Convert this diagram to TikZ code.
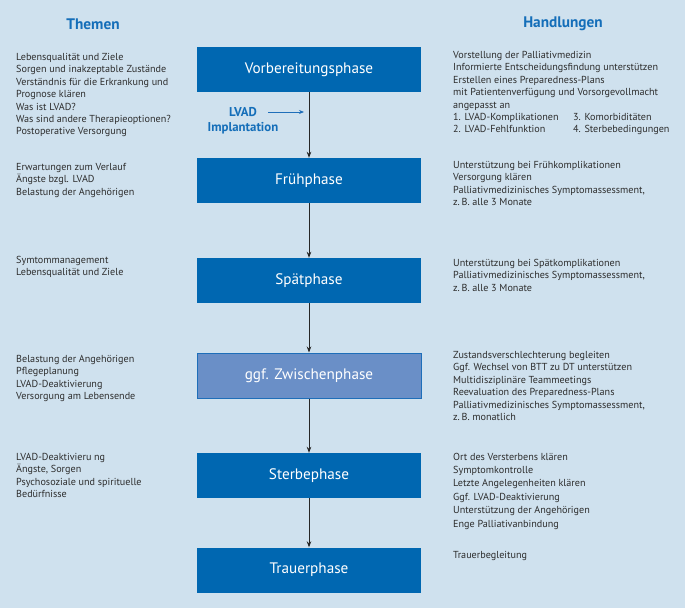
\documentclass[tikz,border=0pt]{standalone}
\usepackage{fontspec}
\setmainfont{PT Sans}
\usetikzlibrary{arrows.meta}
\definecolor{bg}{RGB}{207,225,238}
\definecolor{boxblue}{RGB}{0,103,177}
\definecolor{midblue}{RGB}{106,143,199}
\definecolor{edgeblue}{RGB}{30,110,185}
\definecolor{headblue}{RGB}{20,110,185}
\definecolor{txt}{RGB}{45,45,45}
\tikzset{
  phasebox/.style={fill=boxblue, draw=none, minimum width=224pt, minimum height=45pt, inner sep=0pt, text=white, font=\fontsize{15.2}{17}\selectfont},
  midbox/.style={phasebox, fill=midblue, draw=edgeblue, line width=1pt},
  txtblock/.style={anchor=north west, inner sep=0pt, align=left, text=txt, font=\fontsize{10.15}{12.4}\selectfont},
  heading/.style={text=headblue, font=\bfseries\fontsize{15.3}{17}\selectfont},
  flow/.style={draw=black!85, line width=0.8pt, -{Stealth[length=6pt,width=4.5pt]}},
}
\begin{document}
\begin{tikzpicture}[x=1pt,y=-1pt]
\path[fill=bg,use as bounding box] (0,0) rectangle (685,608);

\node[heading] (hT) at (93,24) {Themen};
\node[heading] (hH) at (563,24) {Handlungen};

\node[phasebox] (p1) at (309,69.5) {Vorbereitungsphase};
\node[phasebox] (p2) at (309,180.5) {Frühphase};
\node[phasebox] (p3) at (309,280.5) {Spätphase};
\node[midbox]   (p4) at (309,375.5) {ggf. Zwischenphase};
\node[phasebox] (p5) at (309,475.5) {Sterbephase};
\node[phasebox] (p6) at (309,570) {Trauerphase};

\draw[flow] (p1) -- (p2);
\draw[flow] (p2) -- (p3);
\draw[flow] (p3) -- (p4);
\draw[flow] (p4) -- (p5);
\draw[flow] (p5) -- (p6);

\node[text=headblue, font=\bfseries\fontsize{12.8}{15.5}\selectfont, align=center, inner sep=0pt] (lvad) at (243,120.5) {LVAD\\Implantation};
\coordinate (la) at (268,112);
\coordinate (lb) at (304,112);
\draw[draw=edgeblue, line width=0.9pt, -{Stealth[length=5pt,width=4pt]}] (la) -- (lb);

% left column
\node[txtblock] (l1) at (16,51.6) {\strut Lebensqualität und Ziele\\Sorgen und inakzeptable Zustände\\Verständnis für die Erkrankung und\\Prognose klären\\Was ist LVAD?\\Was sind andere Therapieoptionen?\\Postoperative Versorgung};
\node[txtblock] (l2) at (16,161.6) {\strut Erwartungen zum Verlauf\\Ängste bzgl. LVAD\\Belastung der Angehörigen};
\node[txtblock] (l3) at (16,254.6) {\strut Symtommanagement\\Lebensqualität und Ziele};
\node[txtblock] (l4) at (16,353.6) {\strut Belastung der Angehörigen\\Pflegeplanung\\LVAD-Deaktivierung\\Versorgung am Lebensende};
\node[txtblock] (l5) at (16,451.6) {\strut LVAD-Deaktivieru ng\\Ängste, Sorgen\\Psychosoziale und spirituelle\\Bedürfnisse};

% right column
\node[txtblock] (r1) at (453,49.6) {\strut Vorstellung der Palliativmedizin\\Informierte Entscheidungsfindung unterstützen\\Erstellen eines Preparedness-Plans\\mit Patientenverfügung und Vorsorgevollmacht\\angepasst an\\\makebox[120pt][l]{1. LVAD-Komplikationen}3. Komorbiditäten\\\makebox[120pt][l]{2. LVAD-Fehlfunktion}4. Sterbebedingungen};
\node[txtblock] (r2) at (453,159.6) {\strut Unterstützung bei Frühkomplikationen\\Versorgung klären\\Palliativmedizinisches Symptomassessment,\\z.\,B. alle 3 Monate};
\node[txtblock] (r3) at (453,257.6) {\strut Unterstützung bei Spätkomplikationen\\Palliativmedizinisches Symptomassessment,\\z.\,B. alle 3 Monate};
\node[txtblock] (r4) at (453,349.6) {\strut Zustandsverschlechterung begleiten\\Ggf. Wechsel von BTT zu DT unterstützen\\Multidisziplinäre Teammeetings\\Reevaluation des Preparedness-Plans\\Palliativmedizinisches Symptomassessment,\\z.\,B. monatlich};
\node[txtblock, font=\fontsize{10.15}{13.4}\selectfont] (r5) at (453,450.6) {\strut Ort des Versterbens klären\\Symptomkontrolle\\Letzte Angelegenheiten klären\\Ggf. LVAD-Deaktivierung\\Unterstützung der Angehörigen\\Enge Palliativanbindung};
\node[txtblock] (r6) at (453,549.6) {\strut Trauerbegleitung};
\end{tikzpicture}
\end{document}
